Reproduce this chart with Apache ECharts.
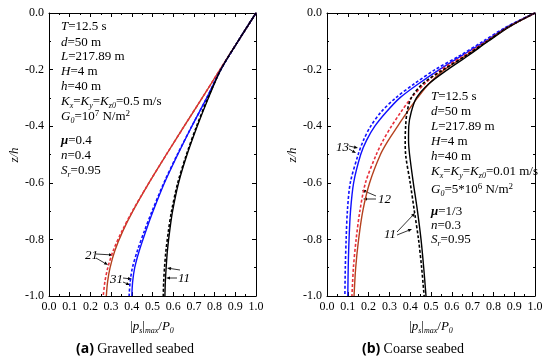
<!DOCTYPE html>
<html><head><meta charset="utf-8">
<script src="https://cdn.jsdelivr.net/npm/echarts@6/dist/echarts.min.js"></script>
<style>html,body{margin:0;padding:0;background:#fff}#c{width:550px;height:362px}</style>
</head><body><div id="c"></div>
<script>
// ---------- data ----------
var xTicks = [0,0.1,0.2,0.3,0.4,0.5,0.6,0.7,0.8,0.9,1.0];
var yTicks = [0,-0.2,-0.4,-0.6,-0.8,-1.0];
// (a) Gravelled seabed: depth levels z/h
var zA = [0,-0.1,-0.2,-0.3,-0.4,-0.5,-0.6,-0.7,-0.77,-0.84,-0.9,-0.95,-1.0];
var a21Solid = [1,0.913,0.826,0.74,0.653,0.567,0.483,0.405,0.357,0.318,0.295,0.283,0.277];
var a21Dash  = [1,0.913,0.826,0.74,0.653,0.567,0.483,0.403,0.353,0.31,0.284,0.27,0.262];
var a31Solid = [1,0.913,0.83,0.762,0.69,0.622,0.558,0.503,0.468,0.436,0.414,0.404,0.40];
var a31Dash  = [1,0.913,0.83,0.762,0.69,0.62,0.555,0.498,0.461,0.427,0.403,0.392,0.387];
var a11Solid = [1,0.913,0.83,0.77,0.716,0.667,0.626,0.597,0.583,0.572,0.566,0.562,0.56];
var a11Dash  = [1,0.913,0.83,0.768,0.713,0.664,0.622,0.592,0.577,0.565,0.558,0.554,0.552];
// (b) Coarse seabed
var zB = [0,-0.05,-0.1,-0.15,-0.2,-0.25,-0.3,-0.35,-0.4,-0.45,-0.5,-0.6,-0.7,-0.8,-0.9,-1.0];
var b13Dash  = [1,0.86,0.75,0.64,0.52,0.42,0.33,0.26,0.21,0.175,0.15,0.112,0.098,0.092,0.088,0.086];
var b13Solid = [1,0.865,0.76,0.65,0.54,0.44,0.35,0.285,0.23,0.19,0.162,0.128,0.113,0.106,0.102,0.10];
var b12Dash  = [1,0.87,0.765,0.66,0.55,0.47,0.405,0.355,0.31,0.27,0.237,0.185,0.158,0.14,0.127,0.12];
var b12Solid = [1,0.87,0.77,0.67,0.565,0.49,0.435,0.385,0.34,0.295,0.257,0.205,0.172,0.152,0.138,0.13];
var b11Dash  = [1,0.87,0.77,0.67,0.56,0.46,0.405,0.385,0.378,0.376,0.378,0.40,0.42,0.44,0.455,0.467];
var b11Solid = [1,0.875,0.775,0.68,0.58,0.49,0.43,0.405,0.393,0.392,0.397,0.415,0.435,0.452,0.465,0.476];

// ---------- styles ----------
var SERIF = '"Liberation Serif","DejaVu Serif",serif';
var BLACK = '#000000', BLUE = '#1010ff', RED_S = '#b5411e', RED_D = '#e8303c';

function pairs(z, v){ return z.map(function(zz,i){ return [v[i], zz]; }); }
function line(name, z, v, color, dashed, gi){
  return {
    name: name, type: 'line', xAxisIndex: gi, yAxisIndex: gi,
    data: pairs(z, v), showSymbol: false, smooth: 0.3, silent: true,
    lineStyle: { color: color, width: dashed ? 1.6 : 1.4, type: dashed ? [3,2] : 'solid' },
    z: dashed ? 3 : 2
  };
}

function xAx(gi, pos, labels){
  return {
    type: 'value', gridIndex: gi, position: pos, min: 0, max: 1, interval: 0.1,
    axisLine: { show: true, onZero: false, lineStyle: { color: '#000', width: 1 } },
    axisTick: { show: true, inside: true, length: 4, lineStyle: { color: '#000' } },
    minorTick: { show: true, splitNumber: 2, length: 2, lineStyle: { color: '#000' } },
    splitLine: { show: false },
    axisLabel: { show: labels, color: '#000', fontFamily: SERIF, fontSize: 12, margin: 5,
      formatter: function(v){ return v.toFixed(1); } }
  };
}
function yAx(gi, pos, labels){
  return {
    type: 'value', gridIndex: gi, position: pos, min: -1, max: 0, interval: 0.2,
    axisLine: { show: true, onZero: false, lineStyle: { color: '#000', width: 1 } },
    axisTick: { show: true, inside: true, length: 4, lineStyle: { color: '#000' } },
    minorTick: { show: true, splitNumber: 2, length: 2, lineStyle: { color: '#000' } },
    splitLine: { show: false },
    axisLabel: { show: labels, color: '#000', fontFamily: SERIF, fontSize: 12, margin: 5,
      formatter: function(v){ return v.toFixed(1); } }
  };
}

var rich = {
  n:   { fontFamily: SERIF, fontSize: 13, color: '#000', lineHeight: 16 },
  i:   { fontFamily: SERIF, fontSize: 13, fontStyle: 'italic', color: '#000', lineHeight: 16 },
  mu:  { fontFamily: SERIF, fontSize: 13, fontStyle: 'italic', fontWeight: 'bold', color: '#000', lineHeight: 16 },
  sub: { fontFamily: SERIF, fontSize: 8, fontStyle: 'italic', color: '#000', lineHeight: 8, verticalAlign: 'bottom' },
  sup: { fontFamily: SERIF, fontSize: 9, color: '#000', lineHeight: 10, verticalAlign: 'top' },
  cb:  { fontFamily: '"Open Sans","Liberation Sans",sans-serif', fontSize: 14, fontWeight: 'bold', color: '#000', lineHeight: 18 },
  cn:  { fontFamily: SERIF, fontSize: 14, color: '#000', lineHeight: 18 }
};

function txt(x, y, text, align, rot){
  return { type: 'text', x: x, y: y, rotation: rot || 0, silent: true,
    style: { text: text, rich: rich, align: align || 'left', verticalAlign: 'middle',
             textAlign: align || 'left', textVerticalAlign: 'middle' } };
}
function arrow(x1, y1, x2, y2){
  var a = Math.atan2(y2 - y1, x2 - x1), L = 4, W = 1.6;
  var bx = x2 - L*Math.cos(a), by = y2 - L*Math.sin(a);
  return [
    { type: 'line', silent: true, shape: { x1: x1, y1: y1, x2: bx, y2: by }, style: { stroke: '#000', lineWidth: 0.8 } },
    { type: 'polygon', silent: true, shape: { points: [[x2,y2],[bx - W*Math.sin(a), by + W*Math.cos(a)],[bx + W*Math.sin(a), by - W*Math.cos(a)]] }, style: { fill: '#000' } }
  ];
}

var paramsA = [
  [27, '{i|T}{n|=12.5 s}'], [43, '{i|d}{n|=50 m}'], [57, '{i|L}{n|=217.89 m}'],
  [72, '{i|H}{n|=4 m}'], [87, '{i|h}{n|=40 m}'],
  [102, '{i|K}{sub|x}{n|=}{i|K}{sub|y}{n|=}{i|K}{sub|z0}{n|=0.5 m/s}'],
  [117, '{i|G}{sub|0}{n|=10}{sup|7}{n| N/m}{sup|2}'],
  [141, '{mu|μ}{n|=0.4}'], [156, '{i|n}{n|=0.4}'], [171, '{i|S}{sub|r}{n|=0.95}']
];
var paramsB = [
  [97, '{i|T}{n|=12.5 s}'], [112, '{i|d}{n|=50 m}'], [127, '{i|L}{n|=217.89 m}'],
  [142, '{i|H}{n|=4 m}'], [157, '{i|h}{n|=40 m}'],
  [172, '{i|K}{sub|x}{n|=}{i|K}{sub|y}{n|=}{i|K}{sub|z0}{n|=0.01 m/s}'],
  [190, '{i|G}{sub|0}{n|=5*10}{sup|6}{n| N/m}{sup|2}'],
  [212, '{mu|μ}{n|=1/3}'], [226, '{i|n}{n|=0.3}'], [240, '{i|S}{sub|r}{n|=0.95}']
];

var g = [];
paramsA.forEach(function(p){ g.push(txt(61, p[0], p[1])); });
paramsB.forEach(function(p){ g.push(txt(431, p[0], p[1])); });
// axis titles
g.push(txt(15, 155, '{i|z/h}', 'center', Math.PI/2));
g.push(txt(293, 155, '{i|z/h}', 'center', Math.PI/2));
var xt = '{n||}{i|p}{sub|s}{n||}{sub|max}{n|/}{i|P}{sub|0}';
g.push(txt(152, 327, xt, 'center'));
g.push(txt(431, 327, xt, 'center'));
g.push(txt(135, 349, '{cb|(a)} {cn|Gravelled seabed}', 'center'));
g.push(txt(413, 349, '{cb|(b)} {cn|Coarse seabed}', 'center'));
// curve labels
g.push(txt(85, 256, '{i|21}'));
g.push(txt(110, 280, '{i|31}'));
g.push(txt(178, 279, '{i|11}'));
g.push(txt(336, 148, '{i|13}'));
g.push(txt(378, 200, '{i|12}'));
g.push(txt(384, 235, '{i|11}'));
g = g.concat(arrow(96,254,113,255), arrow(96,258,108,265));
g = g.concat(arrow(123,278,132,279), arrow(123,282,130,285));
g = g.concat(arrow(180,270,167,268), arrow(177,278,166,278));
g = g.concat(arrow(349,146,358,148), arrow(349,149,356,153));
g = g.concat(arrow(376,196,362,190), arrow(376,199,363,199));
g = g.concat(arrow(397,232,415,213), arrow(397,235,412,229));

var option = {
  animation: false,
  backgroundColor: '#ffffff',
  grid: [
    { left: 49, top: 13, width: 207, height: 283, show: false },
    { left: 327, top: 13, width: 208, height: 283, show: false }
  ],
  xAxis: [ xAx(0,'bottom',true), xAx(1,'bottom',true), xAx(0,'top',false), xAx(1,'top',false) ],
  yAxis: [ yAx(0,'left',true), yAx(1,'left',true), yAx(0,'right',false), yAx(1,'right',false) ],
  series: [
    line('21', zA, a21Solid, RED_S, false, 0),
    line('21d', zA, a21Dash, RED_D, true, 0),
    line('31', zA, a31Solid, BLUE, false, 0),
    line('31d', zA, a31Dash, BLUE, true, 0),
    line('11', zA, a11Solid, BLACK, false, 0),
    line('11d', zA, a11Dash, BLACK, true, 0),
    line('13', zB, b13Solid, BLUE, false, 1),
    line('13d', zB, b13Dash, BLUE, true, 1),
    line('12', zB, b12Solid, RED_S, false, 1),
    line('12d', zB, b12Dash, RED_D, true, 1),
    line('11b', zB, b11Solid, BLACK, false, 1),
    line('11bd', zB, b11Dash, BLACK, true, 1)
  ],
  graphic: { elements: g }
};
var chart = echarts.init(document.getElementById('c'), null, { renderer: 'canvas' });
chart.setOption(option);
</script></body></html>
